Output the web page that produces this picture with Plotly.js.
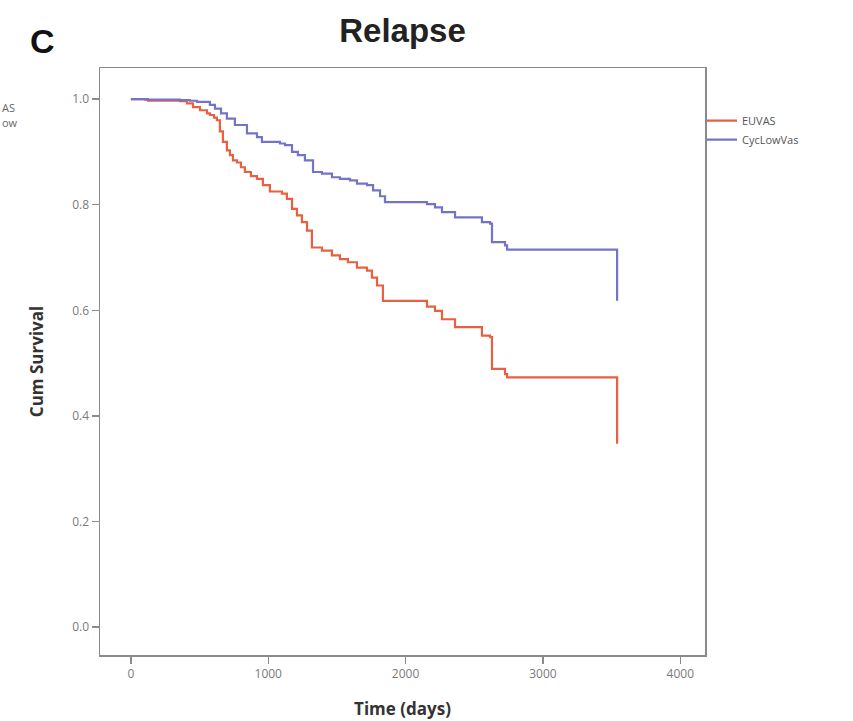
<!DOCTYPE html>
<html>
<head>
<meta charset="utf-8">
<script src="https://cdn.plot.ly/plotly-3.0.1.min.js"></script>
<style>
  html, body { margin: 0; padding: 0; background: #ffffff; }
  #chart { width: 853px; height: 721px; }
</style>
</head>
<body>
<div id="chart"></div>
<script>
// Kaplan-Meier estimates (time in days, cumulative survival)
const euvasTime = [0, 124, 357, 408, 452, 503, 554, 575, 605, 626, 648, 670, 699, 721, 743, 772, 801, 830, 874, 918, 961, 1012, 1100, 1136, 1173, 1209, 1245, 1282, 1318, 1391, 1464, 1522, 1580, 1646, 1719, 1755, 1792, 1835, 2156, 2214, 2265, 2360, 2556, 2615, 2629, 2724, 2739, 3540];
const euvasSurv = [1.000, 0.997, 0.996, 0.992, 0.985, 0.979, 0.973, 0.970, 0.965, 0.960, 0.939, 0.919, 0.903, 0.894, 0.884, 0.880, 0.871, 0.862, 0.854, 0.849, 0.837, 0.825, 0.821, 0.811, 0.792, 0.780, 0.767, 0.751, 0.719, 0.713, 0.704, 0.697, 0.691, 0.681, 0.675, 0.662, 0.647, 0.618, 0.607, 0.599, 0.583, 0.568, 0.552, 0.549, 0.489, 0.479, 0.473, 0.347];

const cycTime = [0, 102, 357, 430, 481, 575, 612, 656, 699, 757, 845, 918, 954, 1085, 1122, 1173, 1216, 1267, 1326, 1391, 1464, 1522, 1595, 1646, 1719, 1763, 1814, 1850, 2156, 2214, 2265, 2360, 2556, 2615, 2629, 2724, 2739, 3540];
const cycSurv = [1.000, 0.999, 0.998, 0.997, 0.995, 0.989, 0.982, 0.973, 0.963, 0.951, 0.935, 0.928, 0.919, 0.916, 0.913, 0.900, 0.894, 0.884, 0.862, 0.859, 0.852, 0.849, 0.846, 0.840, 0.837, 0.827, 0.816, 0.805, 0.801, 0.795, 0.786, 0.776, 0.767, 0.764, 0.729, 0.723, 0.715, 0.618];

const seriesNames = ["EUVAS", "CycLowVas"];
const xTickVals = [0, 1000, 2000, 3000, 4000];
const yTickVals = [0.0, 0.2, 0.4, 0.6, 0.8, 1.0];
const yTickText = ["0.0", "0.2", "0.4", "0.6", "0.8", "1.0"];

const axisGray = "#8a8a8a";
const tickFont = { family: "Open Sans, Noto Sans, sans-serif", size: 12, color: "#7a7a7a" };

const traces = [
  {
    x: euvasTime, y: euvasSurv, name: seriesNames[0], type: "scatter", mode: "lines",
    line: { shape: "hv", color: "#e8603f", width: 2.2 }
  },
  {
    x: cycTime, y: cycSurv, name: seriesNames[1], type: "scatter", mode: "lines",
    line: { shape: "hv", color: "#7474c6", width: 2.2 }
  }
];

const layout = {
  width: 853, height: 721,
  margin: { l: 100, r: 148, t: 68, b: 66 },
  paper_bgcolor: "#ffffff", plot_bgcolor: "#ffffff",
  showlegend: true,
  title: {
    text: "<b>Relapse</b>",
    font: { family: "Liberation Sans, Arial, sans-serif", size: 33, color: "#222222" },
    xref: "paper", x: 0.5, xanchor: "center",
    yref: "container", y: 0.958, yanchor: "middle"
  },
  legend: {
    x: 0.995, xanchor: "left", y: 0.935, yanchor: "top",
    font: { family: "Open Sans, Noto Sans, sans-serif", size: 11, color: "#555555" },
    bgcolor: "rgba(0,0,0,0)", borderwidth: 0,
    itemwidth: 30, tracegroupgap: 0
  },
  xaxis: {
    range: [-225, 4180],
    tickvals: xTickVals, ticktext: xTickVals.map(String),
    ticks: "outside", ticklen: 7, tickwidth: 1.5, tickcolor: axisGray,
    showline: true, linecolor: axisGray, linewidth: 1.5, mirror: true,
    showgrid: false, zeroline: false,
    tickfont: tickFont,
    title: { text: "<b>Time (days)</b>", font: { family: "Open Sans, Noto Sans, sans-serif", size: 17, color: "#333333" }, standoff: 22 }
  },
  yaxis: {
    range: [-0.053, 1.059],
    tickvals: yTickVals, ticktext: yTickText,
    ticks: "outside", ticklen: 7, tickwidth: 1.5, tickcolor: axisGray,
    showline: true, linecolor: axisGray, linewidth: 1.5, mirror: true,
    showgrid: false, zeroline: false,
    tickfont: tickFont,
    title: { text: "<b>Cum Survival</b>", font: { family: "Open Sans, Noto Sans, sans-serif", size: 17, color: "#333333" }, standoff: 24 }
  },
  annotations: [
    {
      text: "<b>C</b>", xref: "paper", yref: "paper",
      x: -0.095, y: 1.046, xanchor: "center", yanchor: "middle",
      showarrow: false,
      font: { family: "Liberation Sans, Arial, sans-serif", size: 34, color: "#111111" }
    },
    {
      text: "AS", xref: "paper", yref: "paper",
      x: -0.166, y: 0.933, xanchor: "left", yanchor: "middle",
      showarrow: false,
      font: { family: "Open Sans, Noto Sans, sans-serif", size: 11, color: "#666666" }
    },
    {
      text: "ow", xref: "paper", yref: "paper",
      x: -0.166, y: 0.908, xanchor: "left", yanchor: "middle",
      showarrow: false,
      font: { family: "Open Sans, Noto Sans, sans-serif", size: 11, color: "#666666" }
    }
  ]
};

Plotly.newPlot("chart", traces, layout, { displayModeBar: false, staticPlot: true });
</script>
</body>
</html>
